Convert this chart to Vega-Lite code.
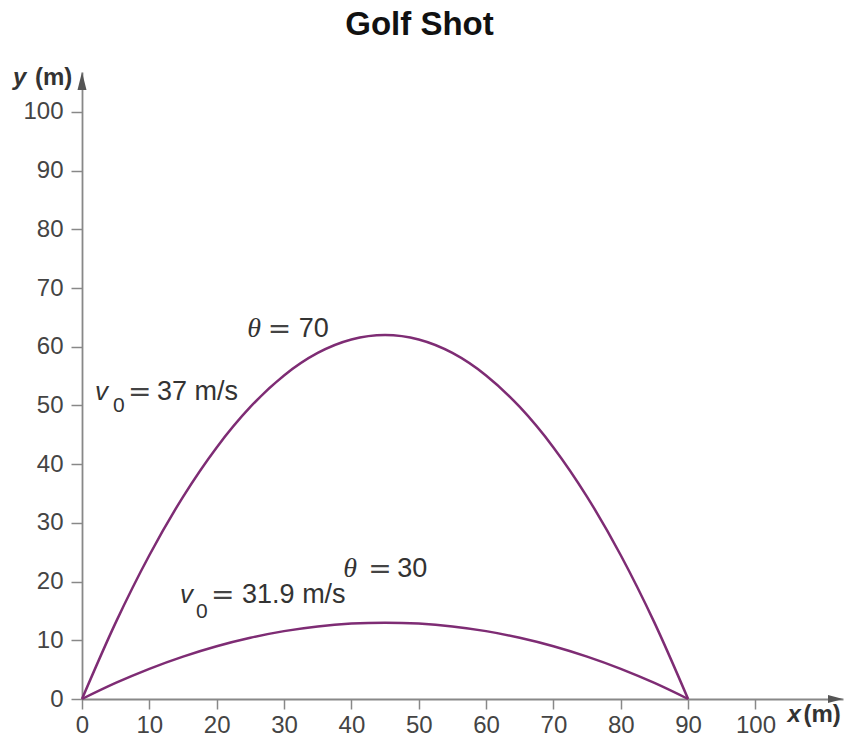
{
  "$schema": "https://vega.github.io/schema/vega-lite/v6.json",
  "width": 761,
  "height": 627,
  "autosize": "none",
  "padding": {"left": 82, "top": 72, "right": 3, "bottom": 43},
  "background": "white",
  "title": {
    "text": "Golf Shot",
    "font": "Liberation Sans",
    "fontSize": 33,
    "fontWeight": "bold",
    "color": "#111111",
    "anchor": "middle",
    "frame": "group",
    "baseline": "alphabetic",
    "dx": -43,
    "dy": 37,
    "offset": 35
  },
  "config": {"view": {"stroke": null}},
  "datasets": {
    "curves": [
      {"shot": "70", "x": 0, "y": 0},
      {"shot": "70", "x": 5, "y": 13.01},
      {"shot": "70", "x": 10, "y": 24.49},
      {"shot": "70", "x": 15, "y": 34.44},
      {"shot": "70", "x": 20, "y": 42.86},
      {"shot": "70", "x": 25, "y": 49.75},
      {"shot": "70", "x": 30, "y": 55.11},
      {"shot": "70", "x": 35, "y": 58.94},
      {"shot": "70", "x": 40, "y": 61.23},
      {"shot": "70", "x": 45, "y": 62.0},
      {"shot": "70", "x": 50, "y": 61.23},
      {"shot": "70", "x": 55, "y": 58.94},
      {"shot": "70", "x": 60, "y": 55.11},
      {"shot": "70", "x": 65, "y": 49.75},
      {"shot": "70", "x": 70, "y": 42.86},
      {"shot": "70", "x": 75, "y": 34.44},
      {"shot": "70", "x": 80, "y": 24.49},
      {"shot": "70", "x": 85, "y": 13.01},
      {"shot": "70", "x": 90, "y": 0},
      {"shot": "30", "x": 0, "y": 0},
      {"shot": "30", "x": 5, "y": 2.73},
      {"shot": "30", "x": 10, "y": 5.14},
      {"shot": "30", "x": 15, "y": 7.22},
      {"shot": "30", "x": 20, "y": 8.99},
      {"shot": "30", "x": 25, "y": 10.43},
      {"shot": "30", "x": 30, "y": 11.56},
      {"shot": "30", "x": 35, "y": 12.36},
      {"shot": "30", "x": 40, "y": 12.84},
      {"shot": "30", "x": 45, "y": 13.0},
      {"shot": "30", "x": 50, "y": 12.84},
      {"shot": "30", "x": 55, "y": 12.36},
      {"shot": "30", "x": 60, "y": 11.56},
      {"shot": "30", "x": 65, "y": 10.43},
      {"shot": "30", "x": 70, "y": 8.99},
      {"shot": "30", "x": 75, "y": 7.22},
      {"shot": "30", "x": 80, "y": 5.14},
      {"shot": "30", "x": 85, "y": 2.73},
      {"shot": "30", "x": 90, "y": 0}
    ],
    "labels": [
      {"part": "theta", "x": 24.52, "y": 61.67, "text": "θ"},
      {"part": "eq", "x": 27.6, "y": 61.67, "text": "="},
      {"part": "plain", "x": 32.2, "y": 61.67, "text": "70"},
      {"part": "v", "x": 1.93, "y": 50.94, "text": "v"},
      {"part": "sub", "x": 4.61, "y": 48.89, "text": "0"},
      {"part": "eq", "x": 6.84, "y": 50.94, "text": "="},
      {"part": "plain", "x": 11.14, "y": 50.94, "text": "37 m/s"},
      {"part": "theta", "x": 38.78, "y": 20.78, "text": "θ"},
      {"part": "eq", "x": 42.5, "y": 20.78, "text": "="},
      {"part": "plain", "x": 46.8, "y": 20.78, "text": "30"},
      {"part": "v", "x": 14.56, "y": 16.35, "text": "v"},
      {"part": "sub", "x": 16.94, "y": 13.80, "text": "0"},
      {"part": "eq", "x": 19.17, "y": 16.35, "text": "="},
      {"part": "plain", "x": 23.77, "y": 16.35, "text": "31.9 m/s"},
      {"part": "axisItalic", "x": -10.25, "y": 104.6, "text": "y"},
      {"part": "axisBold", "x": -6.98, "y": 104.6, "text": "(m)"},
      {"part": "axisItalic", "x": 104.75, "y": -3.92, "text": "x"},
      {"part": "axisBold", "x": 107.13, "y": -3.92, "text": "(m)"}
    ],
    "arrows": [
      {"dir": "right", "x": 113, "y": 0},
      {"dir": "up", "x": 0, "y": 106.8}
    ]
  },
  "encoding": {
    "x": {
      "field": "x",
      "type": "quantitative",
      "scale": {"domain": [0, 113], "nice": false, "zero": false},
      "axis": {
        "values": [0, 10, 20, 30, 40, 50, 60, 70, 80, 90, 100],
        "grid": false,
        "title": null,
        "labelFlush": false,
        "labelOverlap": false,
        "labelFont": "Liberation Sans",
        "labelFontSize": 24,
        "labelColor": "#444444",
        "labelPadding": 4,
        "tickSize": 10,
        "tickColor": "#888888",
        "tickWidth": 1.5,
        "domainColor": "#888888",
        "domainWidth": 1.8
      }
    },
    "y": {
      "field": "y",
      "type": "quantitative",
      "scale": {"domain": [0, 106.8], "nice": false, "zero": false},
      "axis": {
        "values": [0, 10, 20, 30, 40, 50, 60, 70, 80, 90, 100],
        "grid": false,
        "title": null,
        "labelFlush": false,
        "labelOverlap": false,
        "labelFont": "Liberation Sans",
        "labelFontSize": 24,
        "labelColor": "#444444",
        "labelPadding": 8,
        "tickSize": 11,
        "tickColor": "#888888",
        "tickWidth": 1.5,
        "domainColor": "#888888",
        "domainWidth": 1.8
      }
    }
  },
  "layer": [
    {
      "data": {"name": "curves"},
      "mark": {"type": "line", "interpolate": "monotone", "strokeWidth": 2.5, "color": "#7e2c74"},
      "encoding": {"detail": {"field": "shot"}}
    },
    {
      "data": {"name": "arrows"},
      "transform": [{"filter": "datum.dir === 'right'"}],
      "mark": {"type": "point", "shape": "M0,0L-1,-0.27L-1,0.27Z", "size": 900, "filled": true, "color": "#555555", "opacity": 1}
    },
    {
      "data": {"name": "arrows"},
      "transform": [{"filter": "datum.dir === 'up'"}],
      "mark": {"type": "point", "shape": "M0,0L-0.25,1L0.25,1Z", "size": 1296, "filled": true, "color": "#555555", "opacity": 1}
    },
    {
      "data": {"name": "labels"},
      "transform": [{"filter": "datum.part === 'theta'"}],
      "mark": {"type": "text", "align": "left", "baseline": "alphabetic", "font": "Liberation Serif", "fontStyle": "italic", "fontSize": 28, "color": "#333333"},
      "encoding": {"text": {"field": "text"}}
    },
    {
      "data": {"name": "labels"},
      "transform": [{"filter": "datum.part === 'eq'"}],
      "mark": {"type": "text", "align": "left", "baseline": "alphabetic", "font": "DejaVu Sans", "fontSize": 28, "color": "#444444", "dy": 1},
      "encoding": {"text": {"field": "text"}}
    },
    {
      "data": {"name": "labels"},
      "transform": [{"filter": "datum.part === 'plain'"}],
      "mark": {"type": "text", "align": "left", "baseline": "alphabetic", "font": "Liberation Sans", "fontSize": 27, "color": "#333333"},
      "encoding": {"text": {"field": "text"}}
    },
    {
      "data": {"name": "labels"},
      "transform": [{"filter": "datum.part === 'v'"}],
      "mark": {"type": "text", "align": "left", "baseline": "alphabetic", "font": "Liberation Sans", "fontStyle": "italic", "fontSize": 26, "color": "#333333"},
      "encoding": {"text": {"field": "text"}}
    },
    {
      "data": {"name": "labels"},
      "transform": [{"filter": "datum.part === 'sub'"}],
      "mark": {"type": "text", "align": "left", "baseline": "alphabetic", "font": "Liberation Sans", "fontSize": 21, "color": "#333333"},
      "encoding": {"text": {"field": "text"}}
    },
    {
      "data": {"name": "labels"},
      "transform": [{"filter": "datum.part === 'axisItalic'"}],
      "mark": {"type": "text", "align": "left", "baseline": "alphabetic", "font": "Liberation Sans", "fontStyle": "italic", "fontWeight": "bold", "fontSize": 24, "color": "#333333"},
      "encoding": {"text": {"field": "text"}}
    },
    {
      "data": {"name": "labels"},
      "transform": [{"filter": "datum.part === 'axisBold'"}],
      "mark": {"type": "text", "align": "left", "baseline": "alphabetic", "font": "Liberation Sans", "fontWeight": "bold", "fontSize": 24, "color": "#333333"},
      "encoding": {"text": {"field": "text"}}
    }
  ]
}
